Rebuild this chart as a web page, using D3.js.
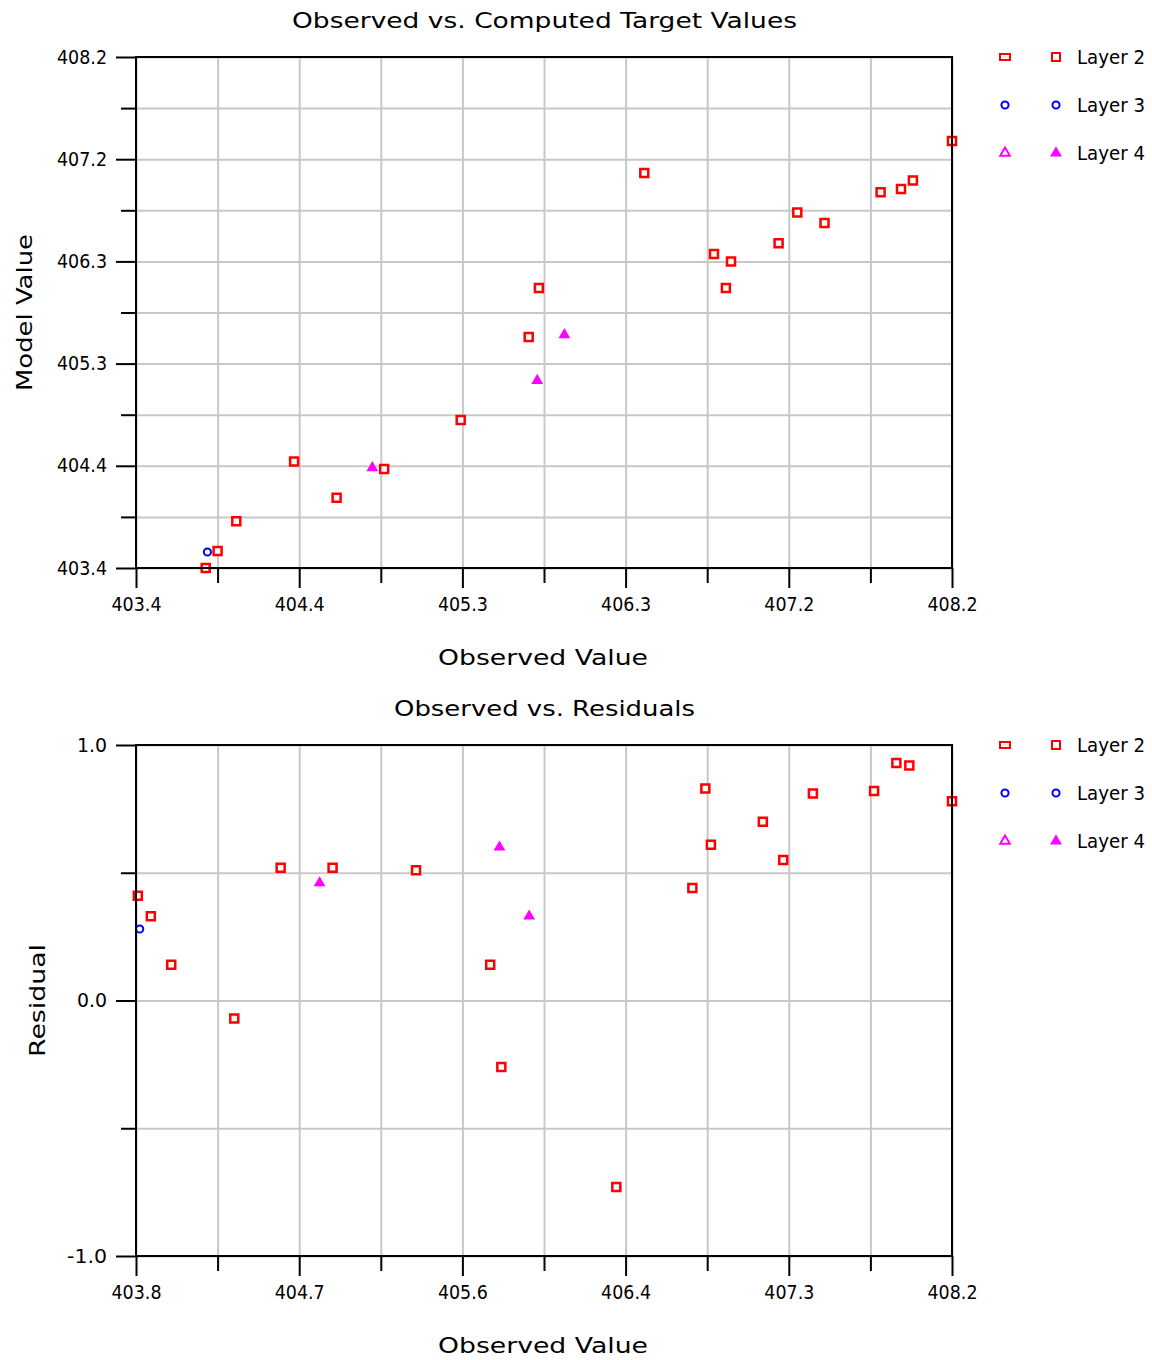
<!DOCTYPE html>
<html>
<head>
<meta charset="utf-8">
<script src="https://cdn.jsdelivr.net/npm/d3@7"></script>
<style>
  body { margin: 0; background: #fff; }
  text { font-family: "DejaVu Sans", Verdana, sans-serif; fill: #000; }
</style>
</head>
<body>
<svg id="chart" width="1152" height="1360"></svg>
<script>

// ---- data ----
let layerNames = ["Layer 2", "Layer 3", "Layer 4"]
let layerColors = ["#ff0000", "#0000ff", "#ff00ff"]

let layer2Observed = [403.81, 403.88, 403.99, 404.33, 404.58, 404.86, 405.31, 405.71, 405.77, 406.39,
                      406.80, 406.87, 406.90, 407.18, 407.29, 407.45, 407.78, 407.90, 407.97, 408.20]
let layer2Model    = [403.40, 403.56, 403.84, 404.40, 404.06, 404.33, 404.79, 405.57, 406.03, 407.11,
                      406.35, 406.03, 406.28, 406.45, 406.74, 406.64, 406.93, 406.96, 407.04, 407.41]
let layer2Residual = [0.41, 0.33, 0.14, -0.07, 0.52, 0.52, 0.51, 0.14, -0.26, -0.73,
                      0.44, 0.83, 0.61, 0.70, 0.55, 0.81, 0.82, 0.93, 0.92, 0.78]

let layer3Observed = [403.82]
let layer3Model    = [403.55]
let layer3Residual = [0.28]

let layer4Observed = [404.79, 405.76, 405.92]
let layer4Model    = [404.34, 405.16, 405.59]
let layer4Residual = [0.46, 0.60, 0.33]

// axis ticks and labels
let topXTicks = [403.4, 403.88, 404.36, 404.84, 405.32, 405.8, 406.28, 406.76, 407.24, 407.72, 408.2]
let topXLabels = ["403.4", "", "404.4", "", "405.3", "", "406.3", "", "407.2", "", "408.2"]
let topYTicks = topXTicks
let topYLabels = topXLabels

let botXTicks = [403.8, 404.24, 404.68, 405.12, 405.56, 406.0, 406.44, 406.88, 407.32, 407.76, 408.2]
let botXLabels = ["403.8", "", "404.7", "", "405.6", "", "406.4", "", "407.3", "", "408.2"]
let botYTicks = [-1, -0.5, 0, 0.5, 1]
let botYLabels = ["-1.0", "", "0.0", "", "1.0"]

// ---- layout ----
let plotLeft = 136, plotWidth = 816, plotHeight = 511

let svg = d3.select('#chart')

let symbolTypes = [d3.symbolSquare, d3.symbolCircle, d3.symbolTriangle]
let symbolSizes = [64, 40, 30]

// squeeze tick labels into the narrow look of the original font
function styleTickText(sel) {
    sel.attr('font-size', 19).attr('font-family', '"DejaVu Sans", sans-serif').attr('fill', '#000')
        .attr('textLength', function () { return this.textContent.length * 10 })
        .attr('lengthAdjust', 'spacingAndGlyphs')
}

function drawPanel(cfg) {
    let g = svg.append('g').attr('transform', `translate(${plotLeft}, ${cfg.top})`)

    let x = d3.scaleLinear().domain(cfg.xDomain).range([0, plotWidth])
    let y = d3.scaleLinear().domain(cfg.yDomain).range([plotHeight, 0])

    // grid
    g.append('g')
        .call(d3.axisBottom(x).tickValues(cfg.xTicks).tickSize(plotHeight).tickFormat(''))
        .call(a => a.select('.domain').remove())
        .selectAll('line').attr('stroke', '#c8c8c8').attr('stroke-width', 2)
    g.append('g')
        .call(d3.axisLeft(y).tickValues(cfg.yTicks).tickSize(-plotWidth).tickFormat(''))
        .call(a => a.select('.domain').remove())
        .selectAll('line').attr('stroke', '#c8c8c8').attr('stroke-width', 2)

    // points
    cfg.series.forEach(function (s, i) {
        let pts = s.xs.map((v, j) => [v, s.ys[j]])
        g.append('g').selectAll('path')
            .data(pts)
            .enter().append('path')
            .attr('transform', d => `translate(${x(d[0])}, ${y(d[1])})`)
            .attr('d', d3.symbol().type(symbolTypes[i]).size(symbolSizes[i]))
            .attr('fill', i == 2 ? layerColors[i] : 'white')
            .attr('stroke', layerColors[i])
            .attr('stroke-width', i == 0 ? 2.5 : 2)
    })

    // frame
    g.append('rect')
        .attr('width', plotWidth).attr('height', plotHeight)
        .attr('fill', 'none').attr('stroke', '#000').attr('stroke-width', 2)

    // x axis ticks: minor then major with labels
    let xMinor = cfg.xTicks.filter((d, i) => cfg.xLabels[i] == '')
    let xMajor = cfg.xTicks.filter((d, i) => cfg.xLabels[i] != '')
    let xLab = cfg.xLabels.filter(d => d != '')
    g.append('g').attr('transform', `translate(0, ${plotHeight})`)
        .call(d3.axisBottom(x).tickValues(xMinor).tickSize(15).tickFormat(''))
        .call(a => a.select('.domain').remove())
        .selectAll('line').attr('stroke', '#000').attr('stroke-width', 2)
    let xa = g.append('g').attr('transform', `translate(0, ${plotHeight})`)
        .call(d3.axisBottom(x).tickValues(xMajor).tickSize(20).tickPadding(10)
            .tickFormat((d, i) => xLab[i]))
        .call(a => a.select('.domain').remove())
    xa.selectAll('line').attr('stroke', '#000').attr('stroke-width', 2)
    xa.selectAll('text').call(styleTickText)

    // y axis ticks
    let yMinor = cfg.yTicks.filter((d, i) => cfg.yLabels[i] == '')
    let yMajor = cfg.yTicks.filter((d, i) => cfg.yLabels[i] != '')
    let yLab = cfg.yLabels.filter(d => d != '')
    g.append('g')
        .call(d3.axisLeft(y).tickValues(yMinor).tickSize(15).tickFormat(''))
        .call(a => a.select('.domain').remove())
        .selectAll('line').attr('stroke', '#000').attr('stroke-width', 2)
    let ya = g.append('g')
        .call(d3.axisLeft(y).tickValues(yMajor).tickSize(20).tickPadding(9)
            .tickFormat((d, i) => yLab[i]))
        .call(a => a.select('.domain').remove())
    ya.selectAll('line').attr('stroke', '#000').attr('stroke-width', 2)
    ya.selectAll('text').call(styleTickText)

    // titles
    g.append('text')
        .attr('x', plotWidth / 2 + 0.5).attr('y', -29)
        .attr('text-anchor', 'middle').attr('font-size', 21)
        .attr('textLength', cfg.titleWidth).attr('lengthAdjust', 'spacingAndGlyphs')
        .text(cfg.title)
    g.append('text')
        .attr('x', plotWidth / 2 - 1).attr('y', plotHeight + 97)
        .attr('text-anchor', 'middle').attr('font-size', 21)
        .attr('textLength', 210).attr('lengthAdjust', 'spacingAndGlyphs')
        .text('Observed Value')
    g.append('text')
        .attr('transform', `translate(${cfg.yLabelX - plotLeft}, ${plotHeight / 2}) rotate(-90)`)
        .attr('text-anchor', 'middle').attr('font-size', 21)
        .attr('textLength', cfg.yLabelWidth).attr('lengthAdjust', 'spacingAndGlyphs')
        .text(cfg.yLabel)

    // legend
    let leg = svg.append('g').attr('transform', `translate(0, ${cfg.top})`)
    layerNames.forEach(function (name, i) {
        let ly = i * 48
        if (i == 0) {
            leg.append('rect')
                .attr('x', 1000).attr('y', ly - 3).attr('width', 10).attr('height', 6)
                .attr('fill', 'white').attr('stroke', layerColors[i]).attr('stroke-width', 2)
        } else {
            leg.append('path')
                .attr('transform', `translate(1005, ${ly})`)
                .attr('d', d3.symbol().type(symbolTypes[i]).size(40))
                .attr('fill', 'white').attr('stroke', layerColors[i]).attr('stroke-width', 2)
        }
        leg.append('path')
            .attr('transform', `translate(1056, ${ly})`)
            .attr('d', d3.symbol().type(symbolTypes[i]).size(symbolSizes[i]))
            .attr('fill', i == 2 ? layerColors[i] : 'white')
            .attr('stroke', layerColors[i]).attr('stroke-width', 2)
        leg.append('text')
            .attr('x', 1077).attr('y', ly + 7)
            .attr('font-size', 19)
            .attr('textLength', 68).attr('lengthAdjust', 'spacingAndGlyphs')
            .text(name)
    })
}

drawPanel({
    top: 57,
    title: 'Observed vs. Computed Target Values',
    titleWidth: 505,
    yLabel: 'Model Value',
    yLabelX: 32,
    yLabelWidth: 157,
    xDomain: [403.4, 408.2], yDomain: [403.4, 408.2],
    xTicks: topXTicks, xLabels: topXLabels,
    yTicks: topYTicks, yLabels: topYLabels,
    series: [
        { xs: layer2Observed, ys: layer2Model },
        { xs: layer3Observed, ys: layer3Model },
        { xs: layer4Observed, ys: layer4Model }
    ]
})

drawPanel({
    top: 745,
    title: 'Observed vs. Residuals',
    titleWidth: 301,
    yLabel: 'Residual',
    yLabelX: 45,
    yLabelWidth: 113,
    xDomain: [403.8, 408.2], yDomain: [-1, 1],
    xTicks: botXTicks, xLabels: botXLabels,
    yTicks: botYTicks, yLabels: botYLabels,
    series: [
        { xs: layer2Observed, ys: layer2Residual },
        { xs: layer3Observed, ys: layer3Residual },
        { xs: layer4Observed, ys: layer4Residual }
    ]
})

</script>
</body>
</html>
